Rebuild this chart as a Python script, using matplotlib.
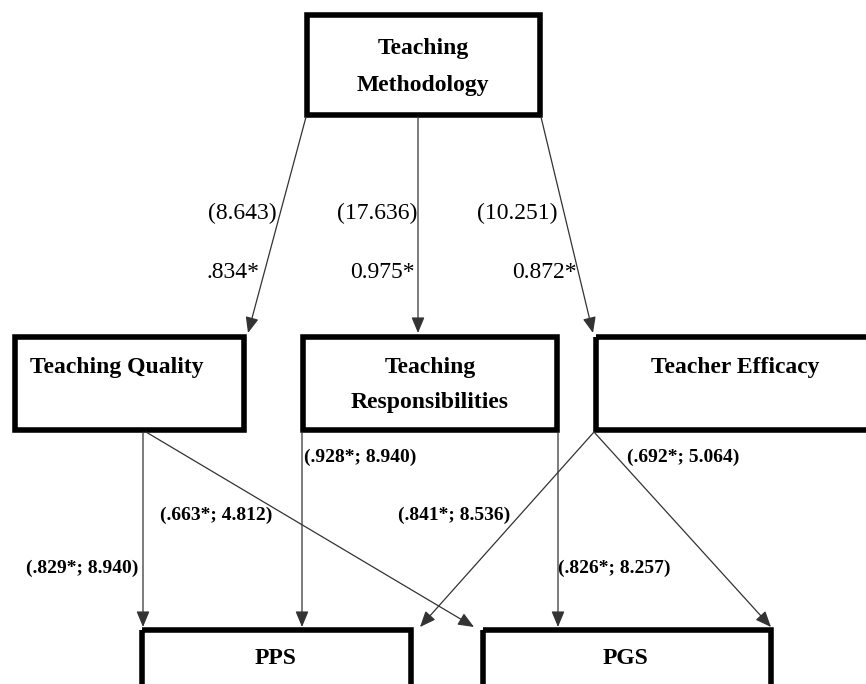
import matplotlib
matplotlib.use("Agg")
import matplotlib.pyplot as plt
from matplotlib.patches import Rectangle, FancyArrowPatch

# ─── DATA ──────────────────────────────────────────────────────────────────────
SOURCE = "Teaching\nMethodology"
MEDIATORS = ["Teaching Quality", "Teaching\nResponsibilities", "Teacher Efficacy"]
OUTCOMES = ["PPS", "PGS"]

# Teaching Methodology -> mediators
TOP_BETA = [".834*", "0.975*", "0.872*"]
TOP_T = ["(8.643)", "(17.636)", "(10.251)"]

# mediators -> outcomes  (mediator, outcome, beta, t)
MED_FROM = [0, 0, 1, 1, 2, 2]
MED_TO = [0, 1, 0, 1, 0, 1]
MED_BETA = [".829*", ".663*", ".928*", ".826*", ".841*", ".692*"]
MED_T = ["8.940", "4.812", "8.940", "8.257", "8.536", "5.064"]
# ───────────────────────────────────────────────────────────────────────────────

FONT = "Liberation Serif"
LINE = "#333333"

fig = plt.figure(figsize=(8.66, 6.84), dpi=100)
ax = fig.add_axes([0, 0, 1, 1])
ax.set_xlim(0, 866)
ax.set_ylim(684, 0)
ax.axis("off")


def box(x0, y0, x1, y1):
    ax.add_patch(Rectangle((x0, y0), x1 - x0, y1 - y0, fill=False,
                           edgecolor="black", linewidth=4.0, joinstyle="miter"))


def arrow(p0, p1):
    ax.add_patch(FancyArrowPatch(p0, p1, arrowstyle="-|>,head_length=0.6,head_width=0.25",
                                 mutation_scale=16, color=LINE, linewidth=0.9,
                                 shrinkA=0, shrinkB=0))


# boxes (layout)
box(307, 15, 540, 115)
mid_boxes = [(15, 337, 244, 430), (303, 337, 557, 430), (596, 337, 900, 430)]
out_boxes = [(142, 630, 411, 710), (483, 630, 771, 710)]
for b in mid_boxes + out_boxes:
    box(*b)

ax.text(423, 67, SOURCE, ha="center", va="center", fontsize=17, fontweight="bold",
        family=FONT, linespacing=2.06)
ax.text(30, 367, MEDIATORS[0], ha="left", va="center", fontsize=17,
        fontweight="bold", family=FONT)
ax.text(430, 385, MEDIATORS[1], ha="center", va="center", fontsize=17,
        fontweight="bold", family=FONT, linespacing=1.93)
ax.text(735, 367, MEDIATORS[2], ha="center", va="center", fontsize=17,
        fontweight="bold", family=FONT)
for name, cx in zip(OUTCOMES, [276, 625]):
    ax.text(cx, 659, name, ha="center", va="center", fontsize=17,
            fontweight="bold", family=FONT)

# top paths
top_start = [(306, 117), (418, 117), (541, 117)]
top_end = [(248, 333), (418, 333), (593, 333)]
for s, e in zip(top_start, top_end):
    arrow(s, e)
t_x = [277, 417, 558]
b_x = [260, 415, 577]
for i in range(3):
    ax.text(t_x[i], 213, TOP_T[i], ha="right", va="center", fontsize=17, family=FONT)
    ax.text(b_x[i], 273, TOP_BETA[i], ha="right", va="center", fontsize=17, family=FONT)

# mediator -> outcome paths
med_start = {(0, 0): (143, 432), (0, 1): (146, 432), (1, 0): (302, 432),
             (1, 1): (558, 432), (2, 0): (594, 432), (2, 1): (594, 432)}
out_end = {(0, 0): (143, 627), (0, 1): (474, 627), (1, 0): (302, 627),
           (1, 1): (558, 627), (2, 0): (420, 627), (2, 1): (771, 627)}
lab_pos = {(0, 0): (26, 568), (0, 1): (160, 515), (1, 0): (304, 457),
           (1, 1): (558, 568), (2, 0): (398, 515), (2, 1): (627, 457)}
for m, o, beta, t in zip(MED_FROM, MED_TO, MED_BETA, MED_T):
    arrow(med_start[(m, o)], out_end[(m, o)])
    lx, ly = lab_pos[(m, o)]
    ax.text(lx, ly, f"({beta}; {t})", ha="left", va="center", fontsize=14,
            fontweight="bold", family=FONT)

fig.savefig("out.png", dpi=100, facecolor="white")
